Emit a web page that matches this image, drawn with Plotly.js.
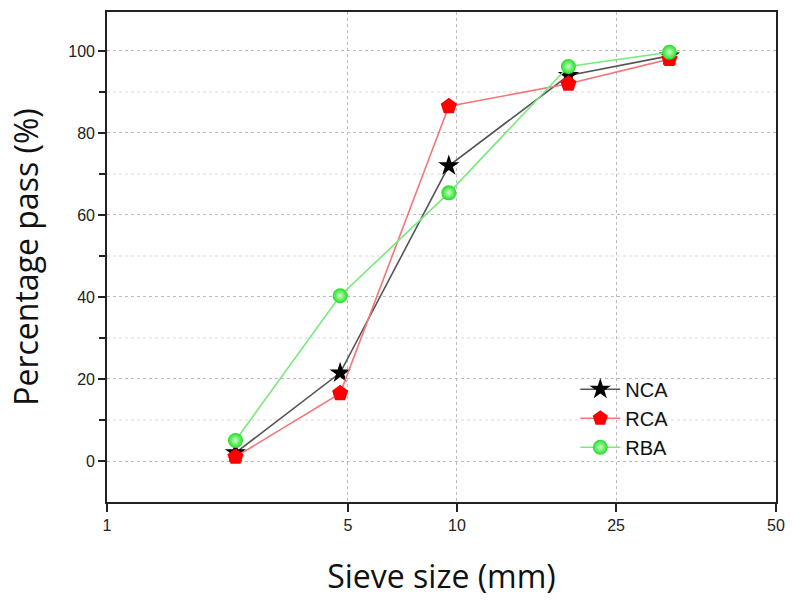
<!DOCTYPE html>
<html>
<head>
<meta charset="utf-8">
<script src="https://cdn.plot.ly/plotly-3.0.1.min.js"></script>
<style>html,body{margin:0;padding:0;background:#fff;}#chart{width:792px;height:603px;}</style>
</head>
<body>
<div id="chart"></div>
<script>
// ---- data ----
const sieveSizes = [2.36, 4.75, 9.5, 19, 31.5];
const nca = [2, 21.5, 72, 94, 98.8];
const rca = [1, 16.5, 86.5, 92, 98];
const rba = [5, 40.3, 65.4, 96.2, 99.7];
const xTickValues = [1, 5, 10, 25, 50];
const xTickLabels = ['1', '5', '10', '25', '50'];
const seriesNames = ['NCA', 'RCA', 'RBA'];

// Axis of the original figure: tick marks are not evenly spaced in log units,
// so the axis is a piecewise-logarithmic scale anchored on the tick values.
const axisAnchorFractions = [0, 0.360, 0.523, 0.761, 1];
function axisScale(v) {
  for (let i = 0; i < xTickValues.length - 1; i++) {
    const a = xTickValues[i], b = xTickValues[i + 1];
    if (v <= b || i === xTickValues.length - 2) {
      const f = Math.log(v / a) / Math.log(b / a);
      return axisAnchorFractions[i] + f * (axisAnchorFractions[i + 1] - axisAnchorFractions[i]);
    }
  }
}
const xs = sieveSizes.map(axisScale);
const tickPos = xTickValues.map(axisScale);

const traces = [
  {x: xs, y: nca, name: seriesNames[0], type: 'scatter', mode: 'lines+markers',
   line: {color: '#555555', width: 1.6},
   marker: {symbol: 'star', size: 16, color: '#000000'}},
  {x: xs, y: rca, name: seriesNames[1], type: 'scatter', mode: 'lines+markers',
   line: {color: '#f07878', width: 1.6},
   marker: {symbol: 'pentagon', size: 17, color: '#ff0000'}},
  {x: xs, y: rba, name: seriesNames[2], type: 'scatter', mode: 'lines+markers',
   line: {color: '#7ce87c', width: 1.6},
   marker: {symbol: 'circle', size: 15, color: '#22dd22',
            gradient: {type: 'radial', color: '#c8ffc8'}}}
];

const tickFont = {family: 'Liberation Sans, Arial, sans-serif', size: 16, color: '#222'};
const titleFont = {family: 'Open Sans, Noto Sans, sans-serif', size: 32, color: '#111'};
const layout = {
  width: 792, height: 603,
  margin: {l: 107, r: 16, t: 12, b: 101},
  paper_bgcolor: '#fff', plot_bgcolor: '#fff',
  showlegend: true,
  legend: {x: 0.70, y: 0.27, xanchor: 'left', yanchor: 'top',
           font: {family: 'Liberation Sans, Arial, sans-serif', size: 20, color: '#111'},
           bgcolor: 'rgba(0,0,0,0)', itemwidth: 40, tracegroupgap: 0},
  xaxis: {
    range: [0, 1], type: 'linear',
    tickmode: 'array', tickvals: tickPos, ticktext: xTickLabels,
    ticks: 'outside', ticklen: 8, tickwidth: 1.5, tickcolor: '#222',
    showline: true, linecolor: '#222', linewidth: 1.8, mirror: true,
    showgrid: true, gridcolor: '#bbbbbb', griddash: 'dot', gridwidth: 1,
    zeroline: false, tickfont: tickFont,
    title: {text: 'Sieve size (mm)', font: titleFont, standoff: 32}
  },
  yaxis: {
    range: [-10, 109.5], type: 'linear',
    tickmode: 'array', tickvals: [0, 20, 40, 60, 80, 100],
    ticks: 'outside', ticklen: 7, tickwidth: 1.5, tickcolor: '#222',
    showline: true, linecolor: '#222', linewidth: 1.8, mirror: true,
    showgrid: true, gridcolor: '#bbbbbb', griddash: 'dot', gridwidth: 1,
    zeroline: false, tickfont: tickFont,
    minor: {tickvals: [10, 30, 50, 70, 90], ticks: 'outside', ticklen: 6, tickcolor: '#222',
            showgrid: true, gridcolor: '#ececec', gridwidth: 1.5},
    title: {text: 'Percentage pass (%)', font: titleFont, standoff: 20}
  }
};

Plotly.newPlot('chart', traces, layout, {displayModeBar: false, staticPlot: true});
</script>
</body>
</html>
